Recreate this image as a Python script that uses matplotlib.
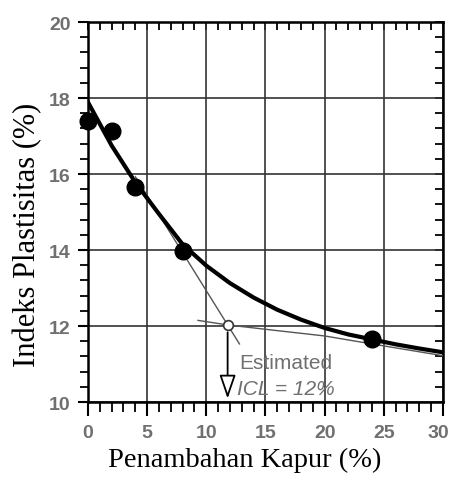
import matplotlib
matplotlib.use("Agg")
import matplotlib.pyplot as plt
import matplotlib.transforms as mtransforms
from matplotlib.ticker import MultipleLocator

# measured points
kapur = [0, 2, 4, 8, 24]
ip = [17.4, 17.14, 15.65, 13.98, 11.66]

# fitted curve
curve_x = [0, 2, 4, 6, 8, 10, 12, 14, 16, 18, 20, 22, 24, 26, 28, 30]
curve_y = [17.89, 16.75, 15.78, 14.95, 14.15, 13.59, 13.13, 12.75,
           12.43, 12.17, 11.95, 11.78, 11.65, 11.52, 11.41, 11.31]

# tangent construction lines
steep_x = [4.0, 12.8]
steep_y = [15.93, 11.53]
flat_x = [9.3, 11.8, 16, 20, 24, 30]
flat_y = [12.15, 12.03, 11.88, 11.74, 11.53, 11.22]

icl_x, icl_y = 11.8, 12.03
label_text = ["Estimated", "ICL = 12%"]

xticks = [0, 5, 10, 15, 20, 25, 30]
yticks = [10, 12, 14, 16, 18, 20]

fig = plt.figure(figsize=(4.52, 4.81), dpi=100)
ax = fig.add_axes([0.1947, 0.162, 0.7853, 0.790])

ax.set_xlim(0, 30)
ax.set_ylim(10, 20)
ax.set_xticks(xticks)
ax.set_yticks(yticks)
ax.xaxis.set_minor_locator(MultipleLocator(1))
ax.yaxis.set_minor_locator(MultipleLocator(0.4))
ax.grid(True, which='major', color='#333333', linewidth=1.2)
ax.set_axisbelow(True)

for s in ax.spines.values():
    s.set_linewidth(1.8)
    s.set_color('black')

ax.tick_params(axis='x', which='major', direction='out', length=10, width=1.5,
               pad=6, labelsize=14, labelcolor='#707070')
ax.tick_params(axis='y', which='major', direction='out', length=7.5, width=1.5,
               pad=5, labelsize=14, labelcolor='#707070')
ax.tick_params(axis='x', which='minor', direction='out', length=7, width=1.3)
ax.tick_params(axis='y', which='minor', direction='out', length=5.5, width=1.3)
for t in ax.get_xticklabels() + ax.get_yticklabels():
    t.set_fontweight('bold')
    t.set_family('Liberation Sans')

# last x label sits right at the figure edge, nudge it in a little
last = ax.get_xticklabels()[-1]
last.set_transform(last.get_transform() +
                   mtransforms.ScaledTranslation(-0.05, 0, fig.dpi_scale_trans))

# top / right minor ticks pointing inward
top = ax.secondary_xaxis('top')
top.set_xticks([])
top.xaxis.set_minor_locator(MultipleLocator(1))
top.tick_params(which='minor', direction='in', length=6, width=1.3)
top.tick_params(which='major', length=0, labeltop=False)
right = ax.secondary_yaxis('right')
right.set_yticks([])
right.yaxis.set_minor_locator(MultipleLocator(0.4))
right.tick_params(which='minor', direction='in', length=6, width=1.3)
right.tick_params(which='major', length=0, labelright=False)

ax.plot(steep_x, steep_y, color='#555555', linewidth=1.0, zorder=3)
ax.plot(flat_x, flat_y, color='#555555', linewidth=1.0, zorder=3)
ax.plot(curve_x, curve_y, color='black', linewidth=3.0, solid_capstyle='round',
        zorder=4)
ax.plot(kapur, ip, 'o', color='black', markersize=12, zorder=5, clip_on=False)
ax.plot([icl_x], [icl_y], 'o', markerfacecolor='white', markeredgecolor='#333333',
        markersize=7, markeredgewidth=1.2, zorder=6)

ax.annotate('', xy=(icl_x, 10.02), xytext=(icl_x, icl_y - 0.12),
            arrowprops=dict(arrowstyle='-|>,head_length=1.45,head_width=0.5',
                            mutation_scale=10, fc='white', ec='black', lw=1.3),
            zorder=6)

ax.text(12.75, 11.04, label_text[0], fontsize=15, color='#707070',
        family='Liberation Sans', va='center', ha='left', zorder=7)
ax.text(12.6, 10.36, label_text[1], fontsize=15, color='#707070',
        family='Liberation Sans', style='italic', va='center', ha='left', zorder=7)

ax.set_xlabel('Penambahan Kapur (%)', family='Liberation Serif', fontsize=20.5)
ax.set_ylabel('Indeks Plastisitas (%)', family='Liberation Serif', fontsize=22)
ax.xaxis.set_label_coords(0.441, -0.117)
ax.yaxis.set_label_coords(-0.128, 0.442)

fig.savefig('out.png', dpi=100, facecolor='white')
